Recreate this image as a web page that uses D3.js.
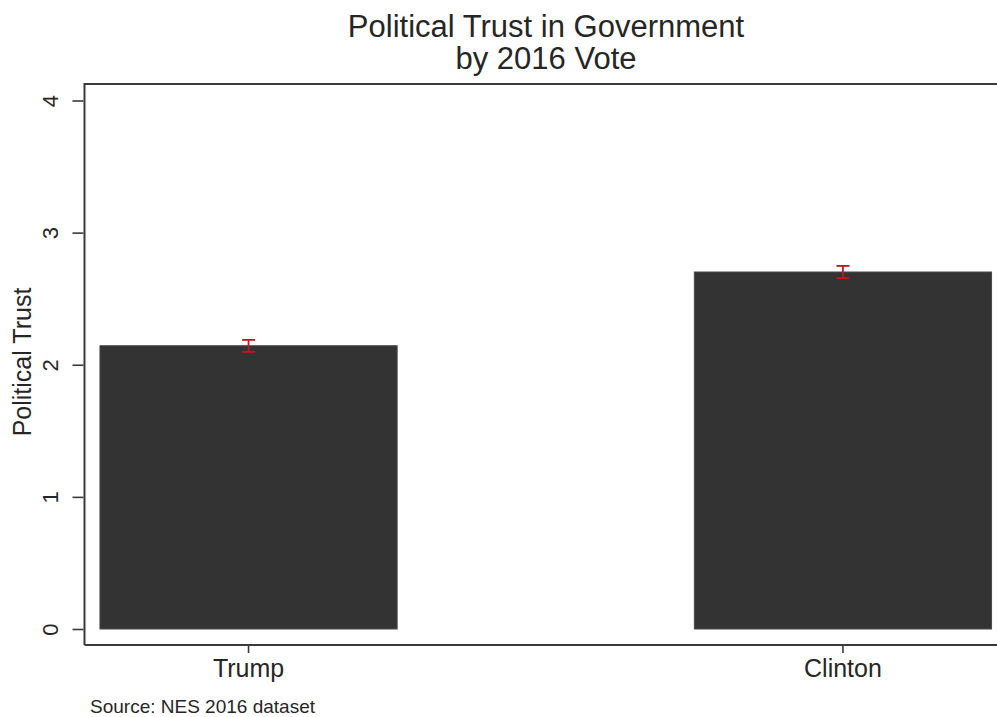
<!DOCTYPE html>
<html>
<head>
<meta charset="utf-8">
<script src="https://cdn.jsdelivr.net/npm/d3@7/dist/d3.min.js"></script>
<style>
  html, body { margin: 0; padding: 0; background: #fff; }
  svg { display: block; font-family: "Liberation Sans", Arial, Helvetica, sans-serif; }
</style>
</head>
<body>
<svg id="chart" width="997" height="717"></svg>
<script>
// Mean political trust by 2016 presidential vote, with 95% confidence intervals
const candidates = ["Trump", "Clinton"];
const trustMeans = [2.144, 2.702];
const ciLower = [2.097, 2.655];
const ciUpper = [2.188, 2.748];
const yTicks = [0, 1, 2, 3, 4];
const titleLines = ["Political Trust in Government", "by 2016 Vote"];
const yTitle = "Political Trust";
const note = "Source: NES 2016 dataset";

(function draw() {
  const svg = d3.select("#chart");
  const W = 997, H = 717;
  svg.append("rect").attr("width", W).attr("height", H).attr("fill", "#fff");

  // plot region
  const pLeft = 84.5, pTop = 84, pBottom = 645, pRight = 1007;
  const y = d3.scaleLinear().domain([0, 4]).range([629, 100.5]);
  const x = d3.scaleBand().domain(candidates).range([pLeft, pRight])
    .paddingInner(0.5).paddingOuter(0.026);

  const textColor = "#262626";
  const lineColor = "#3a3a3a";

  // bars
  svg.append("g").selectAll("rect").data(candidates).join("rect")
    .attr("x", d => x(d))
    .attr("width", x.bandwidth())
    .attr("y", (d, i) => y(trustMeans[i]))
    .attr("height", (d, i) => y(0) - y(trustMeans[i]))
    .attr("fill", "#333333")
    .attr("stroke", "#4a4a4a")
    .attr("stroke-width", 1);

  // confidence intervals
  const ci = svg.append("g").attr("stroke", "#c8141e").attr("stroke-width", 1.8).attr("fill", "none");
  candidates.forEach((c, i) => {
    const cx = x(c) + x.bandwidth() / 2;
    ci.append("line").attr("x1", cx).attr("x2", cx).attr("y1", y(ciLower[i])).attr("y2", y(ciUpper[i]));
    ci.append("line").attr("x1", cx - 6.5).attr("x2", cx + 6.5).attr("y1", y(ciLower[i])).attr("y2", y(ciLower[i]));
    ci.append("line").attr("x1", cx - 6.5).attr("x2", cx + 6.5).attr("y1", y(ciUpper[i])).attr("y2", y(ciUpper[i]));
  });

  // plot region frame: top and left edges, and the x axis line
  const frame = svg.append("g").attr("stroke", lineColor).attr("stroke-width", 2).attr("fill", "none");
  frame.append("path").attr("d", `M${pLeft},${pBottom} L${pLeft},${pTop} L${pRight},${pTop}`);
  frame.append("line").attr("x1", pLeft).attr("x2", pRight).attr("y1", pBottom).attr("y2", pBottom);

  // y axis
  const yAxis = svg.append("g").attr("transform", `translate(${pLeft - 1},0)`)
    .call(d3.axisLeft(y).tickValues(yTicks).tickFormat(d3.format("d")).tickSize(11).tickPadding(0));
  yAxis.select(".domain").remove();
  yAxis.selectAll(".tick line").attr("stroke", lineColor).attr("stroke-width", 1.6);
  yAxis.selectAll(".tick text")
    .attr("transform", "rotate(-90)")
    .attr("x", 0).attr("y", -26).attr("dy", 0)
    .attr("text-anchor", "middle")
    .attr("fill", textColor)
    .style("font-size", "22px");

  // x axis
  const xAxis = svg.append("g").attr("transform", `translate(0,${pBottom + 1})`)
    .call(d3.axisBottom(x).tickSize(7).tickPadding(6));
  xAxis.select(".domain").remove();
  xAxis.selectAll(".tick line").attr("stroke", lineColor).attr("stroke-width", 1.6);
  xAxis.selectAll(".tick text")
    .attr("fill", textColor)
    .style("font-size", "25px");

  // titles
  const title = svg.append("text").attr("text-anchor", "middle").attr("fill", textColor).style("font-size", "31px");
  titleLines.forEach((t, i) => {
    title.append("tspan").attr("x", 546).attr("y", 37 + i * 32).text(t);
  });

  svg.append("text")
    .attr("transform", "translate(31,362) rotate(-90)")
    .attr("text-anchor", "middle")
    .attr("fill", textColor)
    .style("font-size", "25px")
    .text(yTitle);

  svg.append("text")
    .attr("x", 90).attr("y", 713)
    .attr("fill", textColor)
    .style("font-size", "19px")
    .text(note);
})();
</script>
</body>
</html>
